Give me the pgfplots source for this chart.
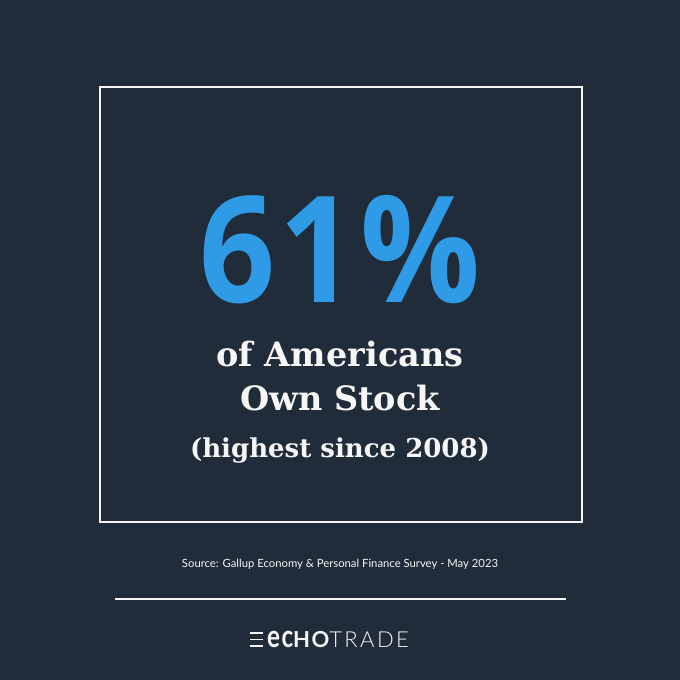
\documentclass[border=0pt]{standalone}
\usepackage{pgfplots}
\pgfplotsset{compat=1.18}
\usepackage{fontspec}
\setmainfont{Open Sans}
\newfontfamily\bignum{Open Sans}[FakeStretch=0.9,LetterSpace=3]
\newfontfamily\serifb{DejaVu Serif}
\newfontfamily\srcfont{Lato}
\newfontfamily\logobold{Lato}[LetterSpace=6]
\newfontfamily\logolight{Lato Light}[LetterSpace=11]
\definecolor{bg}{RGB}{33,44,58}
\definecolor{blue}{RGB}{47,155,230}
\definecolor{wh}{RGB}{246,246,246}
\begin{document}
\begin{tikzpicture}
\begin{axis}[
  scale only axis, width=680pt, height=680pt,
  xmin=0, xmax=680, ymin=0, ymax=680, y dir=reverse,
  hide axis, clip=false]
\fill[bg] (axis cs:0,0) rectangle (axis cs:680,680);
\draw[wh, line width=2pt] (axis cs:100,87) rectangle (axis cs:582,522);
\node[anchor=base, text=blue, font=\bignum\bfseries\fontsize{148}{148}\selectfont, inner sep=0pt] at (axis cs:340,302) {61\%};
\node[anchor=base, text=wh, font=\serifb\bfseries\fontsize{33.5}{33.5}\selectfont, inner sep=0pt] at (axis cs:340,366) {of Americans};
\node[anchor=base, text=wh, font=\serifb\bfseries\fontsize{33.5}{33.5}\selectfont, inner sep=0pt] at (axis cs:340,410) {Own Stock};
\node[anchor=base, text=wh, font=\serifb\bfseries\fontsize{26}{26}\selectfont, inner sep=0pt] at (axis cs:340,457) {(highest since 2008)};
\node[anchor=base, text=wh, font=\srcfont\fontsize{11.3}{11.3}\selectfont, inner sep=0pt] at (axis cs:340,567) {Source: Gallup Economy \& Personal Finance Survey - May 2023};
\draw[wh, line width=2.5pt] (axis cs:115,599) -- (axis cs:566,599);
\draw[wh, line width=1.5pt] (axis cs:250,633) -- (axis cs:263,633);
\draw[wh, line width=1.5pt] (axis cs:250,639.5) -- (axis cs:263,639.5);
\draw[wh, line width=1.5pt] (axis cs:250,646) -- (axis cs:263,646);
\node[anchor=base west, text=wh, inner sep=0pt] at (axis cs:267,647) {{\logobold\bfseries\fontsize{22}{22}\selectfont\scalebox{1.1}[1.42]{ec}HO}{\logolight\mdseries\fontsize{22}{22}\selectfont TRADE}};
\end{axis}
\end{tikzpicture}
\end{document}
